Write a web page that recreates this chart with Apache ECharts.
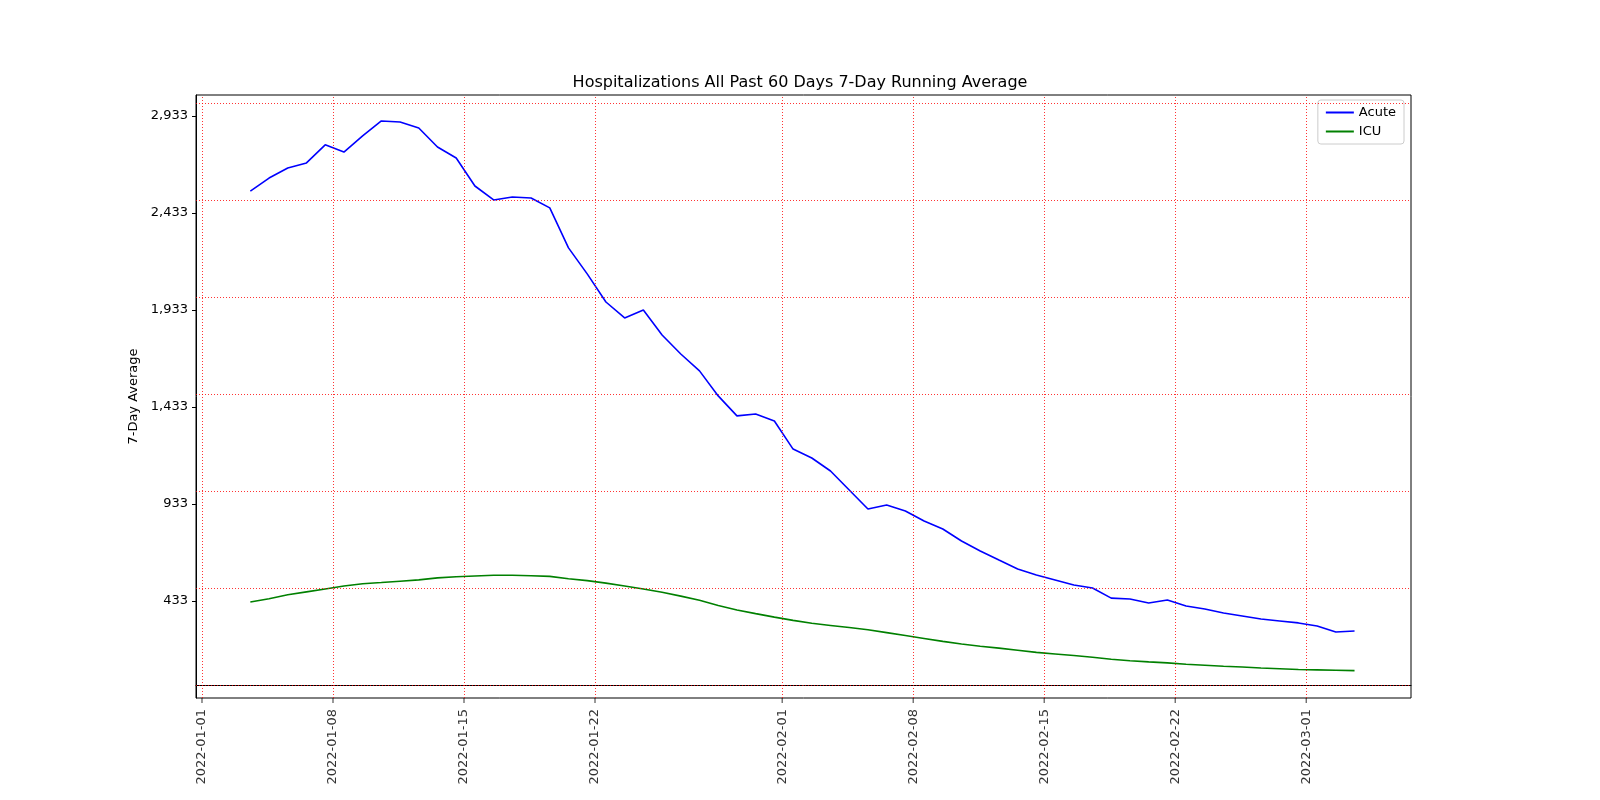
<!DOCTYPE html>
<html><head><meta charset="utf-8">
<script src="https://cdn.jsdelivr.net/npm/echarts@6/dist/echarts.min.js"></script>
<style>html,body{margin:0;background:#fff}#c{width:1600px;height:800px}</style>
</head><body><div id="c"></div>
<script>
const startDate = '2022-01-03T14:00:00Z';
const acute = [2546,2613,2665,2691,2784,2747,2830,2907,2902,2871,2773,2716,2572,2500,2515,2510,2459,2253,2119,1974,1892,1933,1804,1706,1619,1490,1387,1397,1361,1216,1170,1103,1005,907,928,897,845,804,742,691,644,598,567,541,515,500,448,443,423,438,407,392,371,356,340,330,320,304,273,278];
const icu = [428,445,465,480,495,510,522,528,535,542,552,558,562,566,566,563,560,548,538,525,510,495,478,458,437,410,387,368,350,333,318,307,296,285,270,255,240,225,211,200,190,179,168,160,152,143,133,125,119,114,107,102,97,93,88,84,80,78,76,74];
const tickDates = ['2022-01-01','2022-01-08','2022-01-15','2022-01-22','2022-02-01','2022-02-08','2022-02-15','2022-02-22','2022-03-01'];
const DAY = 86400000;
const t0 = Date.parse(startDate);
const dates = acute.map((_, i) => t0 + i * DAY);
const ticks = tickDates.map(d => Date.parse(d + 'T00:00:00Z'));
const chart = echarts.init(document.getElementById('c'));
const grid = {show:false};
const tickLines = ticks.map(t => ({xAxis: t}));
chart.setOption({
  animation:false,
  title:{text:'Hospitalizations All Past 60 Days 7-Day Running Average',left:'center',top:70,textStyle:{fontFamily:'DejaVu Sans',fontSize:16,fontWeight:'normal',color:'#000'}},
  legend:{right:196,top:100,orient:'vertical',itemWidth:28,itemHeight:2,icon:'rect',borderColor:'#ccc',borderWidth:1,borderRadius:3,padding:[6,8],itemGap:6,textStyle:{fontFamily:'DejaVu Sans',fontSize:13,color:'#000'},data:['Acute','ICU']},
  grid:{left:196,right:189,top:95,bottom:102,show:true,borderColor:'#000',borderWidth:1},
  xAxis:{type:'time',min:Date.parse('2022-01-01T00:00:00Z')-0.32*DAY,max:Date.parse('2022-01-01T00:00:00Z')+64.6*DAY,
    axisLine:{lineStyle:{color:'#000'}},splitLine:{show:false},axisTick:{show:false},
    axisLabel:{show:false}},
  yAxis:{type:'value',min:-67,max:3041,interval:500,name:'7-Day Average',nameLocation:'middle',nameGap:50,
    nameTextStyle:{fontFamily:'DejaVu Sans',fontSize:13,color:'#000'},
    axisLine:{show:true,lineStyle:{color:'#000'}},axisTick:{show:true,length:4,lineStyle:{color:'#000'}},
    axisLabel:{fontFamily:'DejaVu Sans',fontSize:13,color:'#000',showMinLabel:false,showMaxLabel:false},
    splitLine:{show:false}},
  series:[
    {name:'Acute',type:'line',data:dates.map((d,i)=>[d,acute[i]]),showSymbol:false,lineStyle:{color:'#0000ff',width:1.6},itemStyle:{color:'#0000ff'},
     markLine:{silent:true,symbol:'none',label:{show:false},lineStyle:{color:'#ff0000',type:[1,2],width:0.8},
       data:[...tickLines,...[0,500,1000,1500,2000,2500,3000].map(v=>({yAxis:v}))]}},
    {name:'ICU',type:'line',data:dates.map((d,i)=>[d,icu[i]]),showSymbol:false,lineStyle:{color:'#008000',width:1.6},itemStyle:{color:'#008000'}},
    {name:'ticks',type:'scatter',data:ticks.map(t=>[t,-67]),symbol:'rect',symbolSize:[1,5],symbolOffset:[0,2.5],itemStyle:{color:'#000'},
     label:{show:true,position:'bottom',distance:6,rotate:90,align:'right',verticalAlign:'middle',fontFamily:'DejaVu Sans',fontSize:13,color:'#000',
       formatter:p=>tickDates[p.dataIndex]},silent:true}
  ]
});
</script></body></html>
